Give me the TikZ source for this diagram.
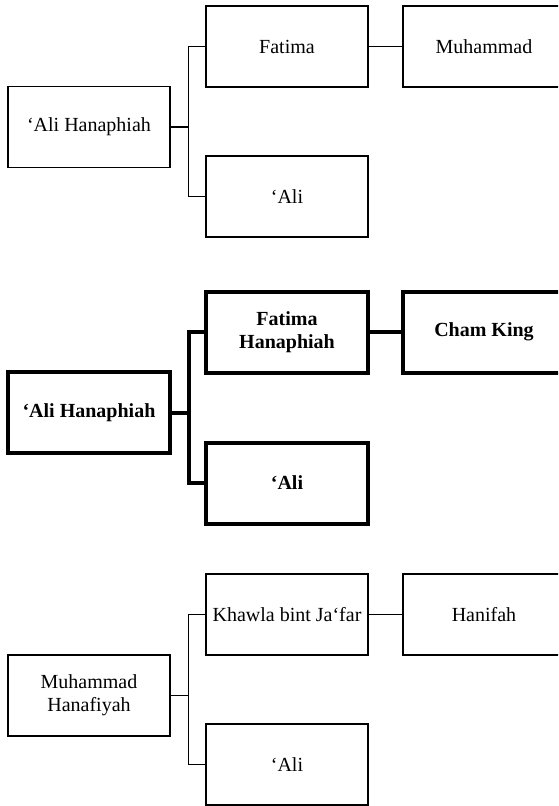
\documentclass[tikz,border=0pt]{standalone}
\usepackage{fontspec}
\setmainfont{Liberation Serif}
\begin{document}
\begin{tikzpicture}[x=1pt,y=-1pt,
  person/.style={draw,line width=1.1pt,minimum width=162pt,minimum height=81pt,
    inner sep=0pt,align=center,font=\fontsize{20}{23}\selectfont},
  hero/.style={person,line width=4pt,font=\fontsize{20}{23}\selectfont\bfseries},
  tie/.style={line width=1.1pt},
  boldtie/.style={line width=4pt}]
  \clip (0,0) rectangle (558,806);
  % first lineage
  \node[person] (alitop) at (89,127) {‘Ali Hanaphiah};
  \node[person] (fatop) at (287,46.5) {Fatima};
  \node[person] (mutop) at (484,46.5) {Muhammad};
  \node[person] (atop) at (287,196.5) {‘Ali};
  \coordinate (jtop) at (188.5,127);
  \draw[tie] (alitop) -- (jtop);
  \draw[tie] (fatop.west) -| (jtop) |- (atop.west);
  \draw[tie] (fatop) -- (mutop);
  % second lineage
  \node[hero] (alimid) at (89,412.5) {‘Ali Hanaphiah};
  \node[hero] (famid) at (287,332) {Fatima\\Hanaphiah};
  \node[hero] (chmid) at (484,332) {Cham King};
  \node[hero] (amid) at (287,483) {‘Ali};
  \coordinate (jmid) at (188.5,412.5);
  \draw[boldtie] (alimid) -- (jmid);
  \draw[boldtie] (famid.west) -| (jmid) |- (amid.west);
  \draw[boldtie] (famid) -- (chmid);
  % third lineage
  \node[person] (mhbot) at (89,695.5) {Muhammad\\Hanafiyah};
  \node[person] (khbot) at (287,614.5) {Khawla bint Ja‘far};
  \node[person] (hnbot) at (484,614.5) {Hanifah};
  \node[person] (abot) at (287,764.5) {‘Ali};
  \coordinate (jbot) at (188.5,695.5);
  \draw[tie] (mhbot) -- (jbot);
  \draw[tie] (khbot.west) -| (jbot) |- (abot.west);
  \draw[tie] (khbot) -- (hnbot);
\end{tikzpicture}
\end{document}
